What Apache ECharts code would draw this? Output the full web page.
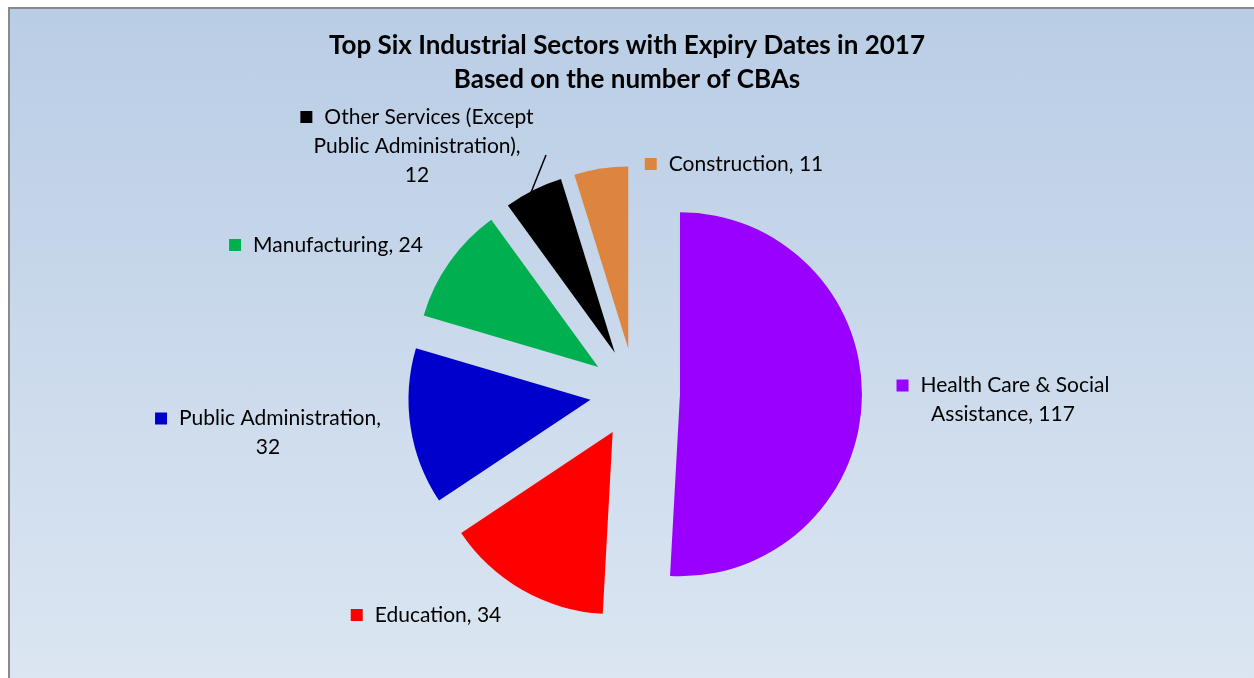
<!DOCTYPE html>
<html>
<head>
<meta charset="utf-8">
<script src="https://cdn.jsdelivr.net/npm/echarts@6/dist/echarts.min.js"></script>
<style>
  html, body { margin: 0; padding: 0; background: #ffffff; }
  #bg {
    position: absolute; left: 8px; top: 7px; width: 1260px; height: 680px;
    border-left: 2px solid #8a8a8a; border-top: 2px solid #8a8a8a;
    background: linear-gradient(to bottom, #b9cde5 0%, #dce6f2 100%);
  }
  #main { position: absolute; left: 0; top: 0; width: 1254px; height: 678px; }
</style>
</head>
<body>
<div id="bg"></div>
<div id="main"></div>
<script>
// sectors, clockwise from 12 o'clock
var sectors = ['Health Care & Social\nAssistance', 'Education', 'Public Administration,\n', 'Manufacturing',
  'Other Services (Except\nPublic Administration),\n', 'Construction'];
var counts = [117, 34, 32, 24, 12, 11];
var colors = ['#9900ff', '#ff0000', '#0000cc', '#00b050', '#000000', '#dd853f'];

// centre of each data label block
var labelPos = [[1003, 400], [426, 615], [268, 433], [326, 245], [417, 146], [734, 164]];

var chart = echarts.init(document.getElementById('main'));

var data = sectors.map(function (name, i) {
  return { name: name, value: counts[i], selected: true, itemStyle: { color: colors[i] } };
});

// data labels with the little legend key in front (excel style)
var labels = sectors.map(function (name, i) {
  var sep = name.slice(-1) === '\n' ? '' : ', ';
  var rich = { gap: { width: 12 } };
  rich['sq'] = { width: 12, height: 12, backgroundColor: colors[i] };
  return {
    type: 'text',
    x: labelPos[i][0],
    y: labelPos[i][1],
    silent: true,
    style: {
      text: '{sq|}{gap|}' + name + sep + counts[i],
      rich: rich,
      fontFamily: 'Lato',
      fontSize: 21,
      lineHeight: 29,
      fill: '#000',
      align: 'center',
      verticalAlign: 'middle'
    }
  };
});

// leader line for the small "Other Services" slice
labels.push({
  type: 'line',
  silent: true,
  shape: { x1: 530, y1: 195, x2: 546, y2: 155 },
  style: { stroke: '#000', lineWidth: 1.5 }
});

chart.setOption({
  backgroundColor: 'transparent',
  title: {
    text: 'Top Six Industrial Sectors with Expiry Dates in 2017\nBased on the number of CBAs',
    left: 'center',
    top: 24,
    textStyle: { fontFamily: 'Lato', fontWeight: 'bold', fontSize: 26, color: '#000', lineHeight: 34 }
  },
  graphic: labels,
  series: [{
    type: 'pie',
    center: [635, 393],
    radius: 182,
    startAngle: 90,
    clockwise: true,
    selectedMode: 'multiple',
    selectedOffset: 45,
    animation: false,
    silent: true,
    label: { show: false },
    labelLine: { show: false },
    data: data
  }]
});
</script>
</body>
</html>
